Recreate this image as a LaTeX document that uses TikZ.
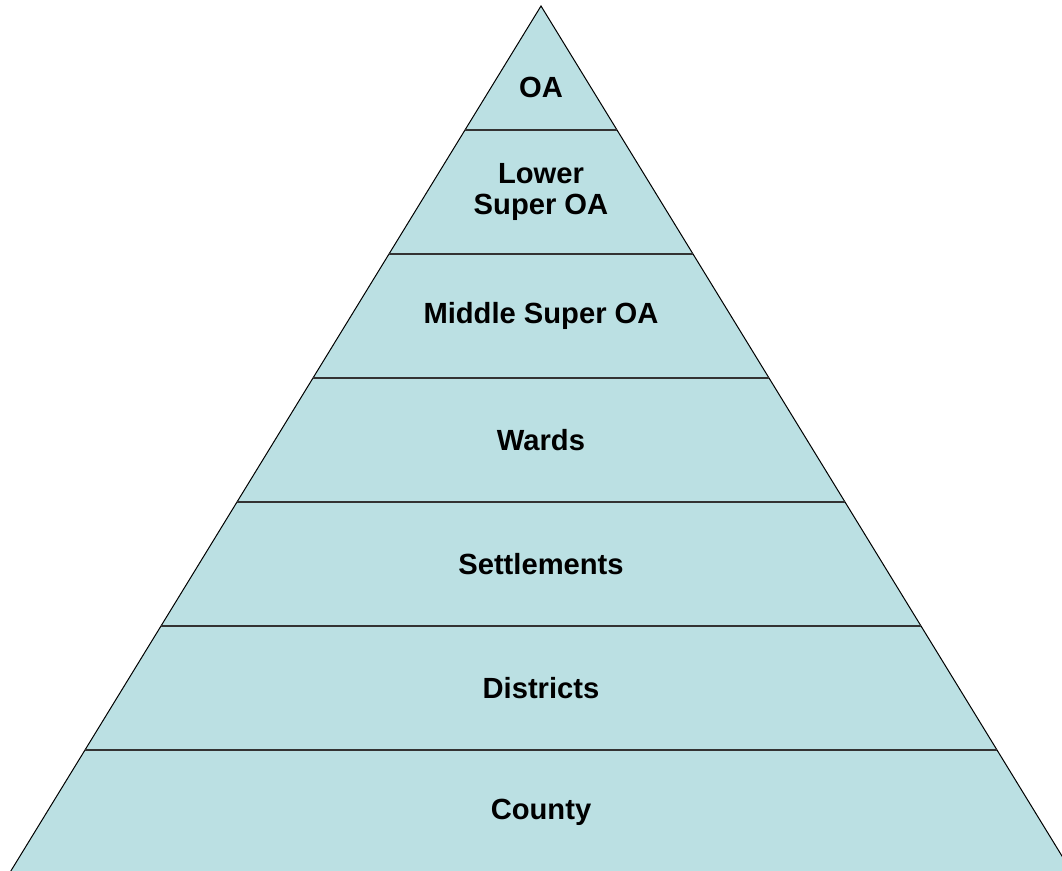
\documentclass[tikz,border=0pt]{standalone}
\usepackage{fontspec}
\setmainfont{Liberation Sans}
\usetikzlibrary{calc}

\begin{document}
\begin{tikzpicture}
\definecolor{cfill}{RGB}{187,224,227}
\definecolor{cline}{RGB}{51,51,51}
\tikzset{
  level/.style={font=\bfseries\fontsize{16.6}{18.2}\selectfont,align=center,text=black},
  divider/.style={draw=cline,line width=0.04cm},
  outline/.style={draw=black,line width=0.02cm,fill=cfill}
}
\useasboundingbox (0,0) rectangle (21.24,17.4);
%
\coordinate (top) at (10.82,17.28);
\coordinate (bl) at (0.18,-0.08);
\coordinate (br) at (21.46,-0.08);
%
\begin{scope}
\clip (0,0) rectangle (21.24,17.4);
\draw[outline] (bl) -- (top) -- (br) -- cycle;
\foreach \k in {1,...,6}{
  \draw[divider] ($(bl)!\k/7!(top)$) -- ($(br)!\k/7!(top)$);
}
\end{scope}
%
\node[level] (county) at (10.82,1.16) {County};
\node[level] (districts) at (10.82,3.64) {Districts};
\node[level] (settlements) at (10.82,6.12) {Settlements};
\node[level] (wards) at (10.82,8.60) {Wards};
\node[level] (msoa) at (10.82,11.08) {Middle Super OA};
\node[level] (lsoa) at (10.82,13.56) {Lower\\Super OA};
\node[level] (oa) at (10.82,15.66) {OA};
%
\end{tikzpicture}
\end{document}
